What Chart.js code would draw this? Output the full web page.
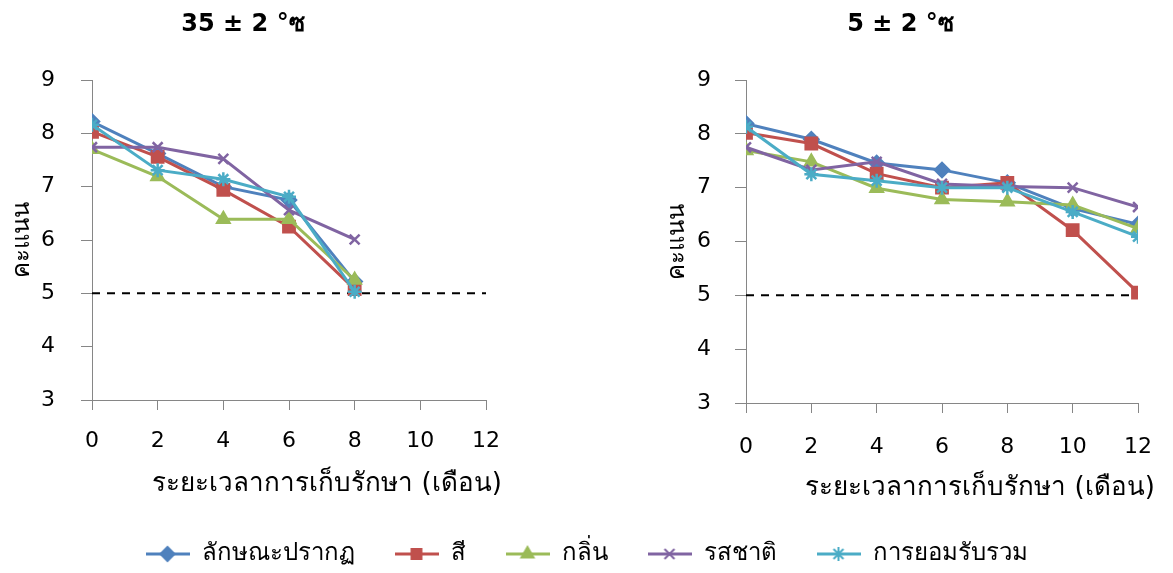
<!DOCTYPE html>
<html>
<head>
<meta charset="utf-8">
<script src="https://cdn.jsdelivr.net/npm/chart.js@4.4.0/dist/chart.umd.min.js"></script>
<style>
  body { margin: 0; background: #fff; width: 1173px; height: 573px; overflow: hidden; position: relative; }
  .box { position: absolute; }
</style>
</head>
<body>
<div class="box" style="left:0;top:0;width:528px;height:530px"><canvas id="hot"></canvas></div>
<div class="box" style="left:659px;top:0;width:514px;height:530px"><canvas id="cold"></canvas></div>
<div class="box" style="left:0;top:502px;width:1173px;height:260px"><canvas id="legend"></canvas></div>
<script>
// storage time (months) and the five sensory attributes
const months = [0, 2, 4, 6, 8, 10, 12];
const seriesNames = ["ลักษณะปรากฏ", "สี", "กลิ่น", "รสชาติ", "การยอมรับรวม"];
const seriesColors = ["#4F81BD", "#C0504D", "#9BBB59", "#8064A2", "#4BACC6"];
const seriesMarkers = ["rectRot", "rect", "triangle", "crossRot", "star"];

// 35 ± 2 °C, scores stop at month 8
const hotAppearance = [8.22, 7.62, 7.00, 6.75, 5.22];
const hotColour     = [8.03, 7.56, 6.94, 6.25, 5.08];
const hotOdour      = [7.70, 7.19, 6.39, 6.39, 5.25];
const hotTaste      = [7.74, 7.74, 7.52, 6.56, 6.01];
const hotOverall    = [8.16, 7.31, 7.14, 6.81, 5.03];

// 5 ± 2 °C
const coldAppearance = [8.19, 7.90, 7.46, 7.33, 7.09, 6.61, 6.32];
const coldColour     = [8.02, 7.82, 7.26, 7.00, 7.09, 6.21, 5.05];
const coldOdour      = [7.69, 7.48, 6.99, 6.78, 6.74, 6.68, 6.24];
const coldTaste      = [7.75, 7.33, 7.48, 7.07, 7.02, 7.00, 6.64];
const coldOverall    = [8.13, 7.25, 7.13, 7.00, 7.00, 6.55, 6.09];

const limitScore = 5;
const yMin = 3, yMax = 9;
const xTitleText = "ระยะเวลาการเก็บรักษา (เดือน)";
const yTitleText = "คะแนน";

const FONT = 'Tahoma, "DejaVu Sans", sans-serif';
const AXIS = "#868686";

function toPoints(vals) {
  return vals.map((v, i) => ({ x: months[i], y: v }));
}

function seriesSets(list) {
  var sets = list.map((vals, i) => ({
    label: seriesNames[i],
    data: toPoints(vals),
    borderColor: seriesColors[i],
    backgroundColor: seriesColors[i],
    borderWidth: 3,
    pointStyle: seriesMarkers[i],
    pointRadius: seriesMarkers[i] == "rect" ? 8 : 7,
    pointBorderWidth: 2.5,
    pointBackgroundColor: seriesColors[i],
    pointBorderColor: seriesColors[i],
    tension: 0,
    order: list.length - i
  }));
  sets.push({
    label: "limit",
    data: [{ x: months[0], y: limitScore }, { x: months[months.length - 1], y: limitScore }],
    borderColor: "#000",
    borderWidth: 2,
    borderDash: [8, 7],
    pointRadius: 0,
    order: 20
  });
  return sets;
}

const xTitlePlugin = {
  id: "xTitle",
  afterDraw(chart, args, o) {
    const { ctx, chartArea } = chart;
    ctx.save();
    ctx.font = "26px " + FONT;
    ctx.fillStyle = "#000";
    ctx.textAlign = "center";
    ctx.textBaseline = "middle";
    ctx.fillText(o.text, (chartArea.left + chartArea.right) / 2 + o.dx, o.y);
    ctx.restore();
  }
};

function makeChart(id, title, list, lay) {
  return new Chart(document.getElementById(id), {
    type: "line",
    data: { datasets: seriesSets(list) },
    plugins: [xTitlePlugin],
    options: {
      responsive: true,
      maintainAspectRatio: false,
      animation: false,
      layout: { padding: { left: 0, right: lay.padRight, top: 0, bottom: 0 } },
      plugins: {
        legend: { display: false },
        tooltip: { enabled: false },
        title: {
          display: true, text: title, color: "#000",
          font: { family: FONT, size: 24, weight: "bold" },
          padding: { top: 10.6, bottom: 40.6 }
        },
        xTitle: { text: xTitleText, dx: 38, y: lay.xTitleY }
      },
      scales: {
        x: {
          type: "linear", min: 0, max: 12,
          ticks: { stepSize: 2, color: "#000", padding: lay.xPad, font: { family: FONT, size: 22 } },
          grid: { drawOnChartArea: false, tickLength: 10, color: AXIS },
          border: { color: AXIS },
          afterFit(s) { s.height = lay.xHeight; }
        },
        y: {
          min: yMin, max: yMax,
          ticks: { stepSize: 1, color: "#000", padding: lay.yPad, font: { family: FONT, size: 22 } },
          grid: { drawOnChartArea: false, tickLength: 11, color: AXIS },
          border: { color: AXIS },
          title: { display: true, text: yTitleText, color: "#000", font: { family: FONT, size: 24 }, padding: { top: lay.yTitlePad, bottom: 0 } },
          afterFit(s) { s.width = lay.yWidth; }
        }
      }
    }
  });
}

makeChart("hot", "35 ± 2 °ซ", [hotAppearance, hotColour, hotOdour, hotTaste, hotOverall],
  { padRight: 42, xHeight: 130, xPad: 18, yPad: 26, yWidth: 92, yTitlePad: 8, xTitleY: 484 });
makeChart("cold", "5 ± 2 °ซ", [coldAppearance, coldColour, coldOdour, coldTaste, coldOverall],
  { padRight: 31, xHeight: 127, xPad: 21, yPad: 24, yWidth: 87, yTitlePad: 4, xTitleY: 488 });

// legend icons: a short line with the marker in the middle
function legendIcon(i) {
  var c = document.createElement("canvas");
  c.width = 44; c.height = 18;
  var g = c.getContext("2d");
  g.strokeStyle = seriesColors[i];
  g.fillStyle = seriesColors[i];
  g.lineWidth = 3;
  g.beginPath(); g.moveTo(0, 9); g.lineTo(44, 9); g.stroke();
  g.lineWidth = 2;
  Chart.helpers.drawPoint(g, { pointStyle: seriesMarkers[i], radius: 7, rotation: 0, borderWidth: 2 }, 22, 9);
  return c;
}

new Chart(document.getElementById("legend"), {
  type: "line",
  data: { datasets: seriesNames.map((n, i) => ({ label: n, data: [], borderColor: seriesColors[i] })) },
  options: {
    responsive: true, maintainAspectRatio: false, animation: false,
    scales: { x: { display: false }, y: { display: false } },
    plugins: {
      tooltip: { enabled: false },
      legend: {
        position: "top",
        maxHeight: 200,
        labels: {
          usePointStyle: true, pointStyleWidth: 44, padding: 40, color: "#000",
          font: { family: FONT, size: 24 },
          generateLabels: (chart) => seriesNames.map((n, i) => ({
            text: n, pointStyle: legendIcon(i), datasetIndex: i, hidden: false,
            fillStyle: seriesColors[i], strokeStyle: seriesColors[i], lineWidth: 0
          }))
        }
      }
    }
  }
});
</script>
</body>
</html>
